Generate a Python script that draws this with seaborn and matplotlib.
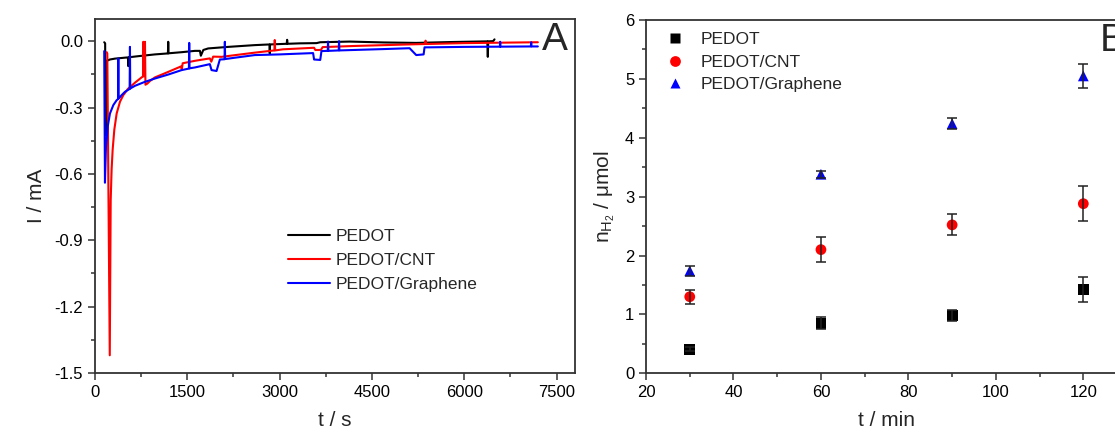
import matplotlib
matplotlib.use('Agg')
import matplotlib.pyplot as plt
import seaborn as sns
import pandas as pd
from matplotlib.ticker import MultipleLocator, FuncFormatter

# ---- panel A: chronoamperometry (t in s, I in mA) ----
pedot_t = [150, 165, 172, 180, 243, 325, 514, 535, 541, 548, 703, 974, 1163, 1185, 1190, 1195,
           1407, 1623, 1705, 1720, 1760, 1839, 2164, 2597, 2835, 2840, 2845, 3115, 3122, 3130,
           3330, 3600, 3660, 4140, 4700, 5220, 5800, 6375, 6383, 6390, 6470, 6492]
pedot_i = [-0.005, -0.010, -0.425, -0.090, -0.083, -0.079, -0.074, -0.074, -0.113, -0.073, -0.068,
           -0.060, -0.056, -0.056, -0.003, -0.055, -0.050, -0.044, -0.044, -0.066, -0.040, -0.033,
           -0.026, -0.018, -0.015, -0.056, -0.015, -0.012, 0.006, -0.012, -0.010, -0.009, -0.005,
           -0.002, -0.006, -0.008, -0.004, -0.001, -0.071, -0.001, 0.000, 0.008]

cnt_t = [190, 200, 240, 255, 270, 287, 314, 352, 406, 460, 541, 649, 757, 780, 785, 792, 808,
         812, 820, 850, 893, 974, 1190, 1400, 1410, 1425, 1623, 1866, 1890, 1920, 2056, 2597,
         2915, 2921, 2928, 3055, 3560, 3580, 3670, 3700, 4200, 5220, 5365, 5372, 5380, 6000,
         6600, 7196]
cnt_i = [-0.050, -0.056, -1.420, -0.720, -0.580, -0.490, -0.400, -0.327, -0.274, -0.244, -0.214,
         -0.188, -0.164, -0.160, -0.003, -0.158, -0.158, -0.003, -0.197, -0.192, -0.180, -0.164,
         -0.139, -0.114, -0.128, -0.100, -0.089, -0.078, -0.093, -0.070, -0.071, -0.052, -0.042,
         0.005, -0.042, -0.037, -0.030, -0.040, -0.040, -0.027, -0.022, -0.014, -0.013, 0.002,
         -0.013, -0.009, -0.007, -0.005]

gr_t = [150, 162, 178, 206, 243, 298, 352, 374, 379, 384, 433, 487, 563, 568, 573, 649, 811,
        974, 1190, 1407, 1526, 1531, 1536, 1623, 1866, 1894, 1975, 2029, 2105, 2110, 2115, 2272,
        2597, 3000, 3544, 3560, 3660, 3680, 3782, 3787, 3792, 3961, 3966, 3971, 4679, 5112,
        5220, 5340, 5355, 5436, 6000, 6579, 6584, 6589, 7083, 7088, 7093, 7196]
gr_i = [-0.045, -0.640, -0.478, -0.387, -0.327, -0.289, -0.267, -0.262, -0.078, -0.260, -0.244,
        -0.229, -0.216, -0.026, -0.214, -0.202, -0.184, -0.169, -0.151, -0.131, -0.124, -0.008,
        -0.123, -0.119, -0.104, -0.131, -0.135, -0.083, -0.082, -0.003, -0.081, -0.075, -0.063,
        -0.060, -0.054, -0.083, -0.085, -0.045, -0.044, -0.002, -0.044, -0.042, 0.000, -0.042,
        -0.036, -0.032, -0.063, -0.060, -0.028, -0.028, -0.026, -0.025, -0.003, -0.025, -0.024,
        -0.005, -0.024, -0.024]

# ---- panel B: hydrogen produced ----
time_min = [30, 60, 90, 120]
pedot_n = [0.41, 0.85, 0.98, 1.42]
pedot_err = [0.03, 0.10, 0.10, 0.21]
cnt_n = [1.30, 2.10, 2.52, 2.88]
cnt_err = [0.12, 0.21, 0.18, 0.30]
gr_n = [1.74, 3.38, 4.24, 5.05]
gr_err = [0.08, 0.06, 0.10, 0.20]

labels = ['PEDOT', 'PEDOT/CNT', 'PEDOT/Graphene']
colors = {'PEDOT': '#000000', 'PEDOT/CNT': '#ff0000', 'PEDOT/Graphene': '#0000ff'}

sns.set_style('ticks')
plt.rcParams['font.family'] = ['Liberation Sans', 'DejaVu Sans']
plt.rcParams['axes.unicode_minus'] = False
plt.rcParams['mathtext.fontset'] = 'custom'
plt.rcParams['mathtext.rm'] = 'Liberation Sans'
plt.rcParams['mathtext.it'] = 'Liberation Sans'

fig = plt.figure(figsize=(11.15, 4.37), dpi=100)
axA = fig.add_axes([0.0852, 0.1465, 0.4305, 0.81])
axB = fig.add_axes([0.5794, 0.1458, 0.4314, 0.8085])

dfA = pd.concat([
    pd.DataFrame({'t': pedot_t, 'I': pedot_i, 'sample': labels[0]}),
    pd.DataFrame({'t': cnt_t, 'I': cnt_i, 'sample': labels[1]}),
    pd.DataFrame({'t': gr_t, 'I': gr_i, 'sample': labels[2]}),
])
sns.lineplot(data=dfA, x='t', y='I', hue='sample', hue_order=labels, palette=colors,
             estimator=None, sort=False, lw=1.5, ax=axA)

dfB = pd.concat([
    pd.DataFrame({'t': time_min, 'n': pedot_n, 'err': pedot_err, 'sample': labels[0]}),
    pd.DataFrame({'t': time_min, 'n': cnt_n, 'err': cnt_err, 'sample': labels[1]}),
    pd.DataFrame({'t': time_min, 'n': gr_n, 'err': gr_err, 'sample': labels[2]}),
])
sns.scatterplot(data=dfB, x='t', y='n', hue='sample', style='sample', hue_order=labels,
                style_order=labels, palette=colors, markers={'PEDOT': 's', 'PEDOT/CNT': 'o',
                'PEDOT/Graphene': '^'}, s=60, edgecolor='none', ax=axB, zorder=2)
axB.errorbar(dfB['t'], dfB['n'], yerr=dfB['err'], fmt='none', ecolor='#222222',
             elinewidth=1.1, capsize=3.3, capthick=1.1, zorder=3)

spine_c = '#333333'
for ax in (axA, axB):
    for sp in ax.spines.values():
        sp.set_color(spine_c)
        sp.set_linewidth(1.3)
    ax.tick_params(which='both', direction='out', colors=spine_c, labelcolor='black',
                   labelsize=12, width=1.1)
    ax.tick_params(which='major', length=5)
    ax.tick_params(which='minor', length=3)

axA.set_xlim(0, 7800)
axA.set_ylim(-1.5, 0.1)
axA.xaxis.set_major_locator(MultipleLocator(1500))
axA.xaxis.set_minor_locator(MultipleLocator(750))
axA.yaxis.set_major_locator(MultipleLocator(0.3))
axA.yaxis.set_minor_locator(MultipleLocator(0.15))
axA.yaxis.set_major_formatter(FuncFormatter(lambda v, p: '%.1f' % (round(v, 6) + 0.0)))
axA.set_xlabel('t / s', fontsize=15, labelpad=8)
axA.set_ylabel('I / mA', fontsize=15, labelpad=6)
axA.text(0.958, 0.94, 'A', transform=axA.transAxes, fontsize=28, ha='center', va='center')
h, l = axA.get_legend_handles_labels()
axA.legend(h, l, frameon=False, loc='center left', bbox_to_anchor=(0.402, 0.318),
           fontsize=12.5, handlelength=2.4, handletextpad=0.35, labelspacing=0.5,
           borderpad=0, borderaxespad=0)

axB.set_xlim(20, 130)
axB.set_ylim(0, 6)
axB.xaxis.set_major_locator(MultipleLocator(20))
axB.xaxis.set_minor_locator(MultipleLocator(10))
axB.yaxis.set_major_locator(MultipleLocator(1))
axB.yaxis.set_minor_locator(MultipleLocator(0.5))
axB.set_xlabel('t / min', fontsize=15, labelpad=8)
axB.set_ylabel(r'n$_{\mathrm{H}_2}$ / μmol', fontsize=15, labelpad=6)
axB.text(0.944, 0.94, 'B', transform=axB.transAxes, fontsize=28, ha='left', va='center')
h, l = axB.get_legend_handles_labels()
axB.legend(h, l, frameon=False, loc='center left', bbox_to_anchor=(0.043, 0.881),
           fontsize=12.5, handlelength=1.0, handletextpad=0.95, labelspacing=0.42,
           borderpad=0, borderaxespad=0)

fig.savefig('out.png', dpi=100)
